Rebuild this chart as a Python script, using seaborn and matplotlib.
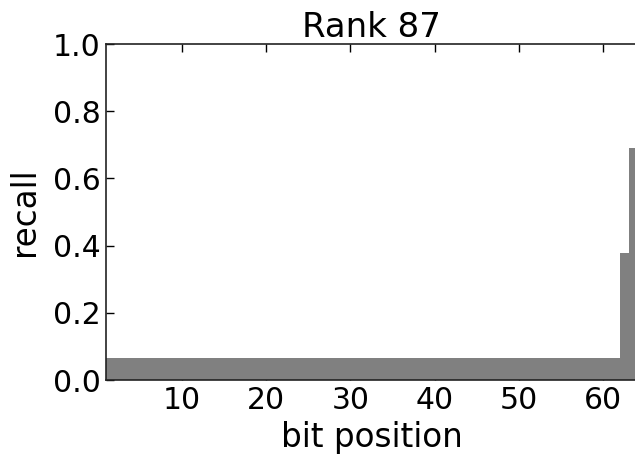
import numpy as np
import pandas as pd
import matplotlib
matplotlib.use("Agg")
import matplotlib.pyplot as plt
import seaborn as sns

# Per-bit recall for rank 87 (bits 0..63)
bit_positions = list(range(64))
recall = [0.065] * 62 + [0.377, 0.69]
x_ticks = [10, 20, 30, 40, 50, 60]
y_ticks = [0.0, 0.2, 0.4, 0.6, 0.8, 1.0]

sns.set_style("ticks")
plt.rcParams.update({
    "font.family": ["DejaVu Sans"],
    "text.color": "black",
    "axes.labelcolor": "black",
    "xtick.color": "black",
    "ytick.color": "black",
    "xtick.direction": "in",
    "ytick.direction": "in",
    "xtick.top": True,
    "ytick.right": False,
    "xtick.major.size": 6,
    "ytick.major.size": 6,
    "xtick.major.width": 1.0,
    "ytick.major.width": 1.0,
    "axes.linewidth": 1.2,
    "axes.edgecolor": "#222222",
})

df = pd.DataFrame({"bit": bit_positions, "recall": recall})

fig = plt.figure(figsize=(6.35, 4.57), dpi=100)
ax = fig.add_axes([106 / 635, 77 / 457, 531 / 635, 336 / 457])

# each bit gets a unit-wide bin [k, k+1), weighted by its recall
sns.histplot(data=df, x="bit", weights="recall", bins=len(bit_positions),
             binrange=(0, len(bit_positions)), color="#808080",
             edgecolor="#808080", linewidth=0, alpha=1.0, ax=ax)

ax.set_xlim(1, 64)
ax.set_ylim(0, 1.0)
ax.set_xticks(x_ticks)
ax.set_yticks(y_ticks)
ax.set_yticklabels([f"{v:.1f}" for v in y_ticks])
ax.tick_params(labelsize=21.5, pad=4)
ax.set_xlabel("bit position", fontsize=23.5, labelpad=5)
ax.set_ylabel("recall", fontsize=23.5, labelpad=8)
ax.set_title("Rank 87", fontsize=24.5, pad=4)
for s in ax.spines.values():
    s.set_visible(True)

fig.savefig("out.png", dpi=100)
